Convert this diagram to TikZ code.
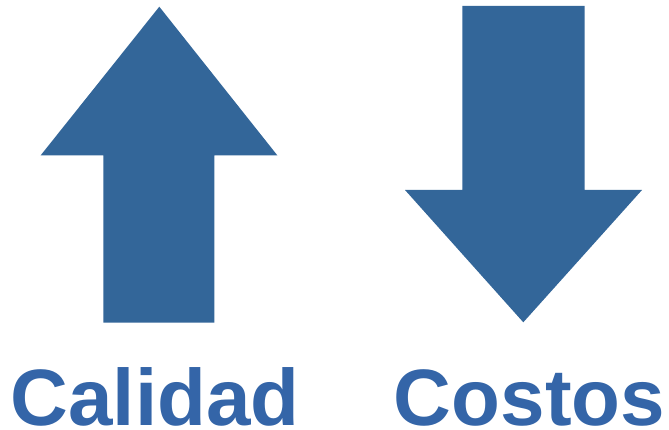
\documentclass[tikz,border=0pt]{standalone}
\usepackage{fontspec}
\setmainfont{Liberation Sans}
\definecolor{arrowblue}{RGB}{51,102,153}
\definecolor{labelblue}{RGB}{52,101,168}
\begin{document}
\begin{tikzpicture}[x=1pt,y=-1pt,
  bigarrow/.style={fill=arrowblue,draw=none},
  biglabel/.style={anchor=base,inner sep=0pt,text=labelblue,
    font=\fontsize{80}{96}\selectfont\bfseries}]
\useasboundingbox (0,0) rectangle (669,430);
% upward arrow: quality goes up
\fill[bigarrow] (159.3,6.7) -- (277.3,155.3) -- (214.3,155.3) -- (214.3,322.7)
  -- (103.3,322.7) -- (103.3,155.3) -- (40.7,155.3) -- cycle;
% downward arrow: costs go down
\fill[bigarrow] (462.3,6) -- (584.7,6) -- (584.7,190) -- (642,190)
  -- (523.3,322.3) -- (405,190) -- (462.3,190) -- cycle;
\node[biglabel] (calidad) at (155,425.5) {Calidad};
\node[biglabel] (costos) at (529.5,425.5) {Costos};
\end{tikzpicture}
\end{document}
